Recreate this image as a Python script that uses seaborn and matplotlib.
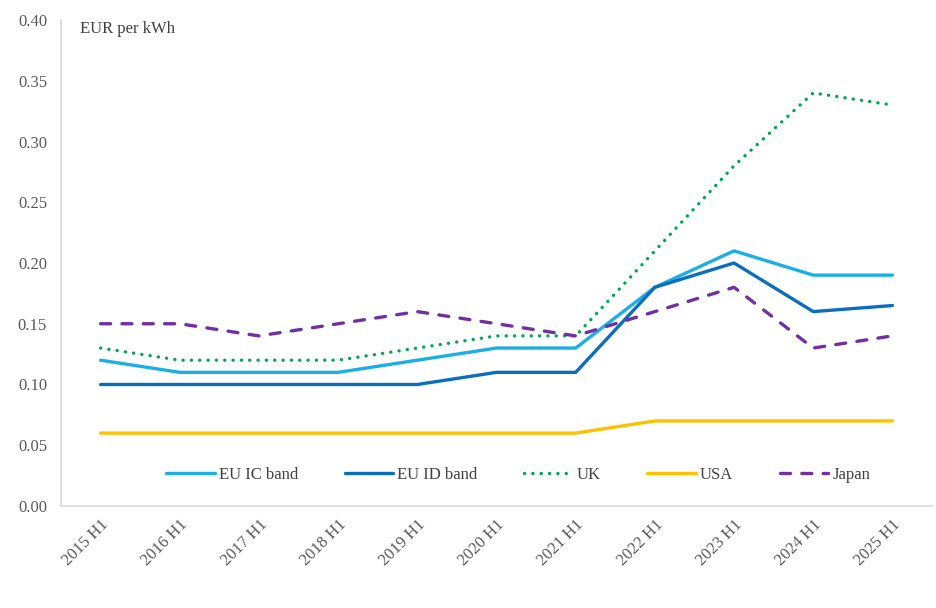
import matplotlib
matplotlib.use("Agg")
import matplotlib.pyplot as plt
import seaborn as sns
import pandas as pd
import numpy as np

periods = ["2015 H1", "2016 H1", "2017 H1", "2018 H1", "2019 H1", "2020 H1",
           "2021 H1", "2022 H1", "2023 H1", "2024 H1", "2025 H1"]
eu_ic = [0.12, 0.11, 0.11, 0.11, 0.12, 0.13, 0.13, 0.18, 0.21, 0.19, 0.19]
eu_id = [0.10, 0.10, 0.10, 0.10, 0.10, 0.11, 0.11, 0.18, 0.20, 0.16, 0.165]
uk = [0.13, 0.12, 0.12, 0.12, 0.13, 0.14, 0.14, 0.21, 0.28, 0.34, 0.33]
usa = [0.06, 0.06, 0.06, 0.06, 0.06, 0.06, 0.06, 0.07, 0.07, 0.07, 0.07]
japan = [0.15, 0.15, 0.14, 0.15, 0.16, 0.15, 0.14, 0.16, 0.18, 0.13, 0.14]
series_names = ["EU IC band", "EU ID band", "UK", "USA", "Japan"]
y_ticks = [0.00, 0.05, 0.10, 0.15, 0.20, 0.25, 0.30, 0.35, 0.40]
unit_label = "EUR per kWh"

sns.set_theme(style="white")
plt.rcParams["font.family"] = ["Liberation Serif", "DejaVu Serif"]

values = [eu_ic, eu_id, uk, usa, japan]
df = pd.DataFrame({
    "pos": np.tile(np.arange(len(periods)), len(series_names)),
    "value": np.concatenate(values),
    "series": np.repeat(series_names, len(periods)),
})

colors = {"EU IC band": "#1AAFE6", "EU ID band": "#0A6EBD", "UK": "#00A651",
          "USA": "#FFC000", "Japan": "#7030A0"}
dash_map = {"EU IC band": None, "EU ID band": None, "UK": (0.05, 2.45),
            "USA": None, "Japan": (3.0, 3.4)}

fig = plt.figure(figsize=(9.36, 6.08), dpi=100)
ax = fig.add_axes([61 / 936, 1 - 506 / 608, 871 / 936, 486 / 608])

lw = 2.4
for name in series_names:
    sub = df[df["series"] == name]
    sns.lineplot(data=sub, x="pos", y="value", ax=ax, color=colors[name],
                 linewidth=lw, label=name, legend=False)
    line = ax.lines[-1]
    if dash_map[name] is not None:
        line.set_dashes(dash_map[name])
        line.set_dash_capstyle("round")
    else:
        line.set_solid_capstyle("round")

ax.set_xlim(-0.5, len(periods) - 0.5)
ax.set_ylim(0, 0.40)
ax.set_yticks(y_ticks)
ax.set_yticklabels([f"{v:.2f}" for v in y_ticks])
ax.set_xticks(np.arange(len(periods)))
ax.set_xticklabels(periods, rotation=45, ha="right", rotation_mode="anchor")
ax.set_xlabel("")
ax.set_ylabel("")
ax.tick_params(axis="both", length=0, colors="#595959", labelsize=12)
ax.tick_params(axis="y", pad=10)
ax.tick_params(axis="x", pad=8)

for s in ["top", "right"]:
    ax.spines[s].set_visible(False)
for s in ["left", "bottom"]:
    ax.spines[s].set_color("#D9D9D9")
    ax.spines[s].set_linewidth(1.2)

ax.text(0.022, 0.997, unit_label, transform=ax.transAxes, fontsize=12,
        color="#404040", va="top", ha="left")

handles = ax.lines[:len(series_names)]
leg = ax.legend(handles, series_names, loc="center", bbox_to_anchor=(0.525, 0.064),
                ncol=5, frameon=False, fontsize=12, handlelength=2.9,
                columnspacing=2.8, handletextpad=0.25, labelcolor="#404040")

fig.savefig("out.png", dpi=100, facecolor="white")
